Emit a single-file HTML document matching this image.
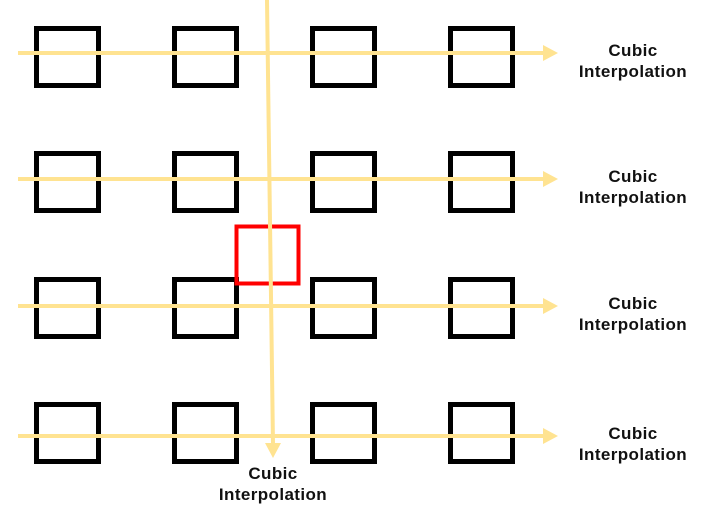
<!DOCTYPE html>
<html><head><meta charset="utf-8"><style>
body{margin:0;background:#fff}
svg text{font-family:"Liberation Sans",sans-serif;font-weight:bold;font-size:17px;letter-spacing:0.4px;fill:#111}
</style></head><body>
<svg width="705" height="511" viewBox="0 0 705 511">
<g id="g"></g>
</svg>
<script>
const colX=[34,172,310,448];
const rowY=[26,151,277,402];
const lineY=[53,179,306,436];
const labels=["Cubic","Interpolation"];
const ns="http://www.w3.org/2000/svg";
const g=document.getElementById('g');
function mk(t,a){const e=document.createElementNS(ns,t);for(const k in a)e.setAttribute(k,a[k]);g.appendChild(e);return e;}
rowY.forEach((y,r)=>colX.forEach((x,c)=>{
 const e=mk('rect',{x:x+2.5,y:y+2.5,width:62,height:57,fill:'none',stroke:'#000','stroke-width':5});
 
 
}));
const red=mk('rect',{x:236.5,y:226.5,width:62,height:57,fill:'none',stroke:'#f00','stroke-width':4});


lineY.forEach((y,i)=>{
 const l=mk('line',{x1:18,y1:y,x2:545,y2:y,stroke:'#ffe391','stroke-width':4});
 
 
 const a=mk('polygon',{points:`543,${y-8} 558,${y} 543,${y+8}`,fill:'#ffe391'});
 
 
 const t=mk('text',{x:633,y:y+3,'text-anchor':'middle'});t.textContent=labels[0];
 
 
 const t2=mk('text',{x:633,y:y+24,'text-anchor':'middle'});t2.textContent=labels[1];
 
 
});
const v=mk('line',{x1:267,y1:0,x2:273,y2:445,stroke:'#ffe391','stroke-width':4});


const va=mk('polygon',{points:'265,443 281,443 273,458',fill:'#ffe391'});


const b1=mk('text',{x:273,y:479,'text-anchor':'middle'});b1.textContent=labels[0];


const b2=mk('text',{x:273,y:500,'text-anchor':'middle'});b2.textContent=labels[1];


</script>
</body></html>
